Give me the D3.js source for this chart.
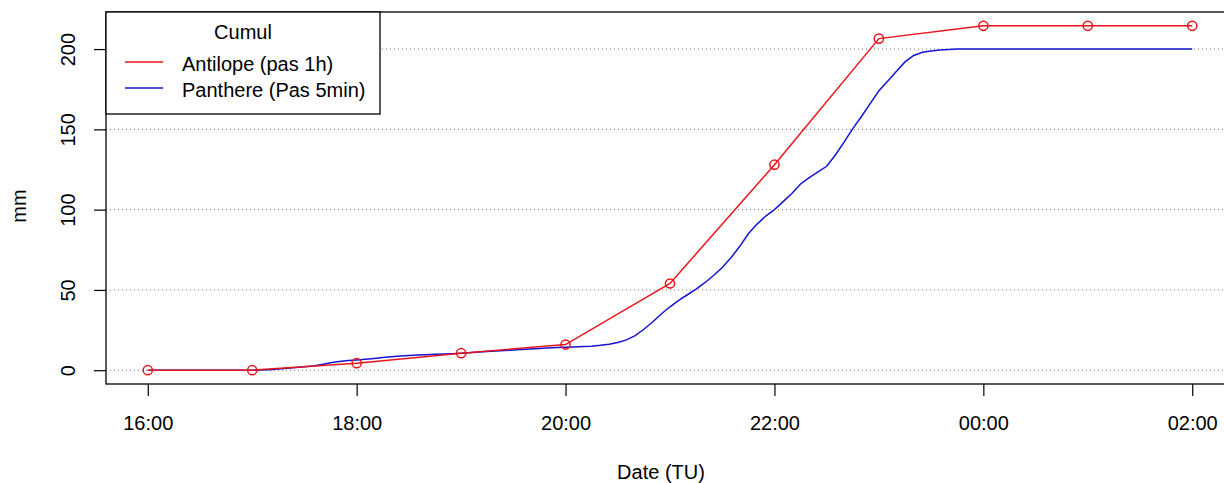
<!DOCTYPE html>
<html>
<head>
<meta charset="utf-8">
<script src="https://cdn.jsdelivr.net/npm/d3@7"></script>
<style>
    body { margin: 0; background: #fff; }
    svg { display: block; font-family: "Liberation Sans", Arial, sans-serif; }
</style>
</head>
<body>
<div id="chart"></div>
<script>
// hours since 16:00 (TU)
var antilopeHours = [0, 1, 2, 3, 4, 5, 6, 7, 8, 9, 10];
var antilopeValues = [0, 0, 4.4, 10.6, 16, 54, 128, 206.5, 214.5, 214.5, 214.5];

// Panthere, 5 min step from 16:00 to 02:00
var pantherValues = [
    0, 0, 0, 0, 0, 0, 0, 0, 0, 0, 0, 0,
    0, 0.1, 0.3, 0.7, 1.2, 1.7, 2.1, 2.6, 3.6, 4.6, 5.4, 6.0,
    6.4, 6.8, 7.3, 7.9, 8.4, 8.9, 9.2, 9.5, 9.7, 9.9, 10.1, 10.3,
    10.6, 10.9, 11.3, 11.7, 12.0, 12.3, 12.6, 12.9, 13.2, 13.5, 13.8, 14.1,
    14.3, 14.5, 14.7, 15.0, 15.5, 16.2, 17.3, 18.9, 21.5, 25.5, 30.0, 35.0,
    39.5, 43.5, 47.0, 50.5, 54.5, 59.0, 64.0, 70.0, 77.0, 85.0, 91.0, 96.0,
    100.0, 105.0, 110.0, 116.0, 120.0, 123.5, 127.0, 134.0, 142.0, 150.5, 158.0, 166.0,
    174.0, 180.0, 186.0, 192.0, 196.0, 198.0, 198.8, 199.4, 199.7, 200, 200, 200,
    200, 200, 200, 200, 200, 200, 200, 200, 200, 200, 200, 200,
    200, 200, 200, 200, 200, 200, 200, 200, 200, 200, 200, 200,
    200
];

var xTickValues = [0, 2, 4, 6, 8, 10];
var xTickLabels = ["16:00", "18:00", "20:00", "22:00", "00:00", "02:00"];
var yTickValues = [0, 50, 100, 150, 200];
var seriesNames = ["Antilope (pas 1h)", "Panthere (Pas 5min)"];
var seriesColors = ["#e8141c", "#1414d2"];

function drawChart() {
    var
        width = 1224,
        height = 483,
        plot = { left: 106, right: 1234, top: 12, bottom: 384 },
        fontSize = "20px";

    var panther = pantherValues.map(function (v, i) { return [i / 12, v]; });
    var antilope = antilopeValues.map(function (v, i) { return [antilopeHours[i], v]; });

    // R style 4% extension of the data range
    var yMax = d3.max(antilopeValues.concat(pantherValues)),
        yExt = 0.04 * yMax,
        xExt = 0.04 * 10;

    var xScale = d3.scaleLinear().domain([-xExt, 10 + xExt]).range([plot.left, plot.right]);
    var yScale = d3.scaleLinear().domain([-yExt, yMax + yExt]).range([plot.bottom, plot.top]);

    var svg = d3.select("#chart").append("svg")
        .attr("width", width)
        .attr("height", height);

    // dotted horizontal grid
    svg.append("g").selectAll("line")
        .data(yTickValues)
        .enter().append("line")
        .attr("x1", plot.left)
        .attr("x2", plot.right)
        .attr("y1", function (d) { return yScale(d); })
        .attr("y2", function (d) { return yScale(d); })
        .attr("stroke", "#6e6e6e")
        .attr("stroke-width", 1)
        .attr("stroke-dasharray", "1,3");

    var line = d3.line()
        .x(function (d) { return xScale(d[0]); })
        .y(function (d) { return yScale(d[1]); });

    svg.append("path")
        .datum(panther)
        .attr("d", line)
        .attr("fill", "none")
        .attr("stroke", seriesColors[1])
        .attr("stroke-width", 1.5);

    svg.append("path")
        .datum(antilope)
        .attr("d", line)
        .attr("fill", "none")
        .attr("stroke", seriesColors[0])
        .attr("stroke-width", 1.5);

    svg.append("g").selectAll("circle")
        .data(antilope)
        .enter().append("circle")
        .attr("cx", function (d) { return xScale(d[0]); })
        .attr("cy", function (d) { return yScale(d[1]); })
        .attr("r", 4.6)
        .attr("fill", "none")
        .attr("stroke", seriesColors[0])
        .attr("stroke-width", 1.5);

    // plot box
    svg.append("rect")
        .attr("x", plot.left)
        .attr("y", plot.top)
        .attr("width", plot.right - plot.left)
        .attr("height", plot.bottom - plot.top)
        .attr("fill", "none")
        .attr("stroke", "#000")
        .attr("stroke-width", 1.3);

    // axes
    var xAxis = svg.append("g")
        .attr("transform", "translate(0," + plot.bottom + ")")
        .call(d3.axisBottom(xScale)
            .tickValues(xTickValues)
            .tickSize(12)
            .tickFormat(function (d, i) { return xTickLabels[i]; }));
    xAxis.select(".domain").remove();
    xAxis.selectAll("line").attr("stroke", "#000").attr("stroke-width", 1.2);
    xAxis.selectAll("text")
        .attr("y", 46)
        .attr("dy", null)
        .attr("fill", "#000")
        .style("font-size", fontSize)
        .style("font-family", "Liberation Sans, Arial, sans-serif");

    var yAxis = svg.append("g")
        .attr("transform", "translate(" + plot.left + ",0)")
        .call(d3.axisLeft(yScale).tickValues(yTickValues).tickSize(12));
    yAxis.select(".domain").remove();
    yAxis.selectAll("line").attr("stroke", "#000").attr("stroke-width", 1.2);
    yAxis.selectAll("text")
        .attr("x", null)
        .attr("dy", null)
        .attr("transform", "translate(-31,0) rotate(-90)")
        .attr("text-anchor", "middle")
        .attr("fill", "#000")
        .style("font-size", fontSize)
        .style("font-family", "Liberation Sans, Arial, sans-serif");

    // axis titles
    svg.append("text")
        .attr("x", 661)
        .attr("y", 479)
        .attr("text-anchor", "middle")
        .style("font-size", fontSize)
        .text("Date (TU)");

    svg.append("text")
        .attr("transform", "translate(26,206) rotate(-90)")
        .attr("text-anchor", "middle")
        .style("font-size", fontSize)
        .text("mm");

    // legend
    var legend = svg.append("g");
    legend.append("rect")
        .attr("x", plot.left)
        .attr("y", plot.top)
        .attr("width", 274)
        .attr("height", 102)
        .attr("fill", "#fff")
        .attr("stroke", "#000")
        .attr("stroke-width", 1.3);
    legend.append("text")
        .attr("x", 243)
        .attr("y", 39)
        .attr("text-anchor", "middle")
        .style("font-size", fontSize)
        .text("Cumul");

    var items = legend.selectAll(".item")
        .data(seriesNames)
        .enter().append("g")
        .attr("class", "item")
        .attr("transform", function (d, i) { return "translate(0," + (62 + i * 26) + ")"; });
    items.append("line")
        .attr("x1", 125)
        .attr("x2", 163)
        .attr("stroke", function (d, i) { return seriesColors[i]; })
        .attr("stroke-width", 1.5);
    items.append("text")
        .attr("x", 182)
        .attr("y", 9)
        .style("font-size", fontSize)
        .text(function (d) { return d; });
}

drawChart();
</script>
</body>
</html>
